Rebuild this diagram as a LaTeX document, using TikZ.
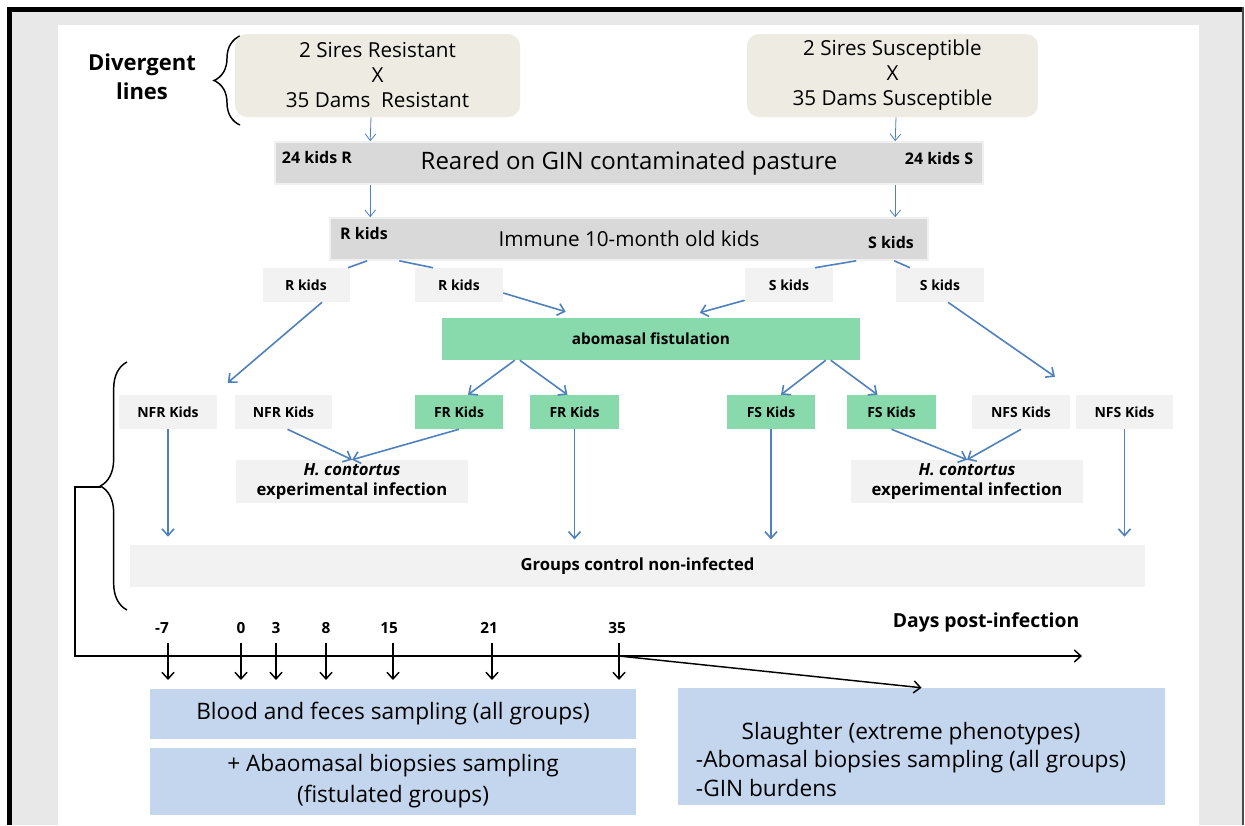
\documentclass[tikz,border=0pt]{standalone}
\usepackage{fontspec}
\setmainfont{Open Sans}
\usetikzlibrary{arrows.meta,calc,decorations.pathreplacing}

\definecolor{framegray}{RGB}{232,232,232}
\definecolor{linebeige}{RGB}{238,236,226}
\definecolor{bargray}{RGB}{217,217,217}
\definecolor{boxgray}{RGB}{242,242,242}
\definecolor{fistgreen}{RGB}{136,218,172}
\definecolor{sampleblue}{RGB}{195,214,238}
\definecolor{flowblue}{RGB}{79,129,189}

\begin{document}
\begin{tikzpicture}[x=0.75pt,y=-0.75pt,
  box/.style 2 args={minimum width=#1*0.75pt,minimum height=#2*0.75pt,inner sep=0pt,align=center},
  linebox/.style={fill=linebeige,rounded corners=9pt,font=\fontsize{15.5}{18.75}\selectfont},
  barbox/.style={fill=bargray,draw=bargray!40!white,line width=1.2pt},
  kidbox/.style={fill=boxgray,font=\bfseries\fontsize{10.5}{12}\selectfont},
  fistbox/.style={fill=fistgreen,font=\bfseries\fontsize{10.5}{12}\selectfont},
  infbox/.style={fill=boxgray,font=\bfseries\fontsize{12.5}{15}\selectfont},
  samplebox/.style={fill=sampleblue,font=\fontsize{17}{23}\selectfont},
  barlabel/.style={font=\bfseries\fontsize{12}{14}\selectfont},
  daylabel/.style={font=\bfseries\fontsize{11.5}{13}\selectfont},
  flow/.style={draw=flowblue,line width=1.2pt,-{Straight Barb[length=5pt,width=9pt]}},
  thinflow/.style={draw=flowblue,line width=0.6pt,-{Straight Barb[length=5pt,width=8pt]}},
  feed/.style={draw=flowblue,line width=1.2pt},
  tick/.style={draw=black,line width=1.1pt,-{Straight Barb[length=5pt,width=9pt]}},
  curly/.style={draw=black,line width=1.1pt,decorate,decoration={brace,amplitude=#1}},
]

  % Bingkai
  \useasboundingbox (0,0) rectangle (1245,825);
  \fill[framegray] (12,12) rectangle (1243,825);
  \fill[white] (58,25) rectangle (1199,825);
  \fill[black] (7,7) rectangle (1243,12);
  \fill[black] (7,7) rectangle (12,825);
  \draw[black!70,line width=1pt] (1243,7) -- (1243,825);

  % Garis divergen
  \node[font=\bfseries\fontsize{16.5}{22}\selectfont,align=center] (divlbl) at (142,77) {Divergent\\lines};
  \draw[curly=19.5pt] (240,125) -- (240,36);
  \node[linebox,box={285}{83}] (rtop) at (377.5,75.5) {2 Sires Resistant\\X\\35 Dams\ \ Resistant};
  \node[linebox,box={291}{83}] (stop) at (892.5,75.5) {2 Sires Susceptible\\X\\35 Dams Susceptible};

  % Padang rumput
  \node[barbox,box={708}{42},font=\fontsize{18}{20}\selectfont] (reared) at (629,163) {Reared on GIN contaminated pasture};
  \node[barlabel] (rearR) at (317,157) {24 kids R};
  \node[barlabel] (rearS) at (939,158) {24 kids S};
  \node[barbox,box={598}{42},font=\fontsize{15.5}{18}\selectfont] (immune) at (629,239) {Immune 10-month old kids};
  \node[barlabel] (immR) at (364,233) {R kids};
  \node[barlabel] (immS) at (891,242) {S kids};

  \draw[thinflow] ($(rtop.south)+(-6.5,0)$) -- ($(reared.north west)+(96,0)$);
  \draw[thinflow] ($(stop.south)+(3.5,0)$) -- ($(reared.north west)+(621,0)$);
  \draw[thinflow] ($(reared.south west)+(96,0)$) -- ($(immune.north west)+(41,0)$);
  \draw[thinflow] ($(reared.south west)+(621,0)$) -- ($(immune.north west)+(566,0)$);

  % Kelompok anak
  \node[kidbox,box={87}{34}] (rk1) at (306,285) {R kids};
  \node[kidbox,box={88}{34}] (rk2) at (459,285) {R kids};
  \node[kidbox,box={88}{34}] (sk1) at (789,285) {S kids};
  \node[kidbox,box={88}{34}] (sk2) at (940,285) {S kids};
  \node[fistbox,box={418}{42},font=\bfseries\fontsize{11.5}{13}\selectfont] (fist) at (651,339) {abomasal fistulation};

  \draw[feed] ($(immune.south west)+(38,0)$) -- ($(rk1.north)+(42,0)$);
  \draw[feed] ($(immune.south west)+(70,0)$) -- ($(rk2.north)+(-26,0)$);
  \draw[feed] ($(immune.south west)+(527,0)$) -- ($(sk1.north)+(26,0)$);
  \draw[feed] ($(immune.south west)+(565,0)$) -- ($(sk2.north)+(-30,0)$);

  \node[kidbox,box={98}{34}] (nfr1) at (168,412) {NFR Kids};
  \node[kidbox,box={97}{34}] (nfr2) at (283.5,412) {NFR Kids};
  \node[fistbox,box={88}{34}] (fr1) at (459,412) {FR Kids};
  \node[fistbox,box={89}{34}] (fr2) at (574.5,412) {FR Kids};
  \node[fistbox,box={88}{34}] (fs1) at (771,412) {FS Kids};
  \node[fistbox,box={89}{34}] (fs2) at (891.5,412) {FS Kids};
  \node[kidbox,box={98}{34}] (nfs1) at (1021,412) {NFS Kids};
  \node[kidbox,box={97}{34}] (nfs2) at (1124.5,412) {NFS Kids};

  \draw[flow] ($(rk1.south)+(16,0)$) -- ($(nfr2.north west)+(-7,-12)$);
  \draw[flow] ($(rk2.east)+(0,8)$) -- ($(fist.north west)+(124,-6)$);
  \draw[flow] ($(sk1.south west)+(0,-2)$) -- ($(fist.north west)+(258,-5)$);
  \draw[flow] ($(sk2.south)+(8,0)$) -- ($(nfs1.north)+(34,-18)$);
  \draw[flow] ($(fist.south west)+(73,0)$) -- ($(fr1.north)+(9,0)$);
  \draw[flow] ($(fist.south west)+(78,0)$) -- ($(fr2.north)+(-7,0)$);
  \draw[flow] ($(fist.south west)+(384,0)$) -- ($(fs1.north)+(10,0)$);
  \draw[flow] ($(fist.south west)+(389,0)$) -- ($(fs2.north)+(-14,0)$);

  % Infeksi H. contortus
  \node[infbox,box={232}{43}] (hcl) at (352,481.5) {\textit{H. contortus}\\experimental infection};
  \node[infbox,box={232}{43}] (hcr) at (967,481.5) {\textit{H. contortus}\\experimental infection};
  \node[infbox,box={1015}{42}] (groups) at (637.5,566) {Groups control non-infected};

  \draw[flow] ($(nfr2.south)+(4,0)$) -- (hcl.north);
  \draw[flow] (fr1.south) -- (hcl.north);
  \draw[flow] (fs2.south) -- (hcr.north);
  \draw[flow] (nfs1.south) -- (hcr.north);
  \draw[flow,shorten >=6pt] (nfr1.south) -- (nfr1.south |- groups.north);
  \draw[flow,shorten >=4pt] (fr2.south) -- (fr2.south |- groups.north);
  \draw[flow,shorten >=4pt] (fs1.south) -- (fs1.south |- groups.north);
  \draw[flow,shorten >=6pt] (nfs2.south) -- (nfs2.south |- groups.north);

  % Garis waktu
  \draw[curly=20pt] (127,610) -- (127,362);
  \coordinate (btip) at (101,487);
  \coordinate (axisL) at (75,656);
  \coordinate (axisR) at (1082,656);
  \draw[tick] (btip) -- (75,487) -- (axisL) -- (axisR);
  \node[font=\bfseries\fontsize{14.5}{17}\selectfont] (dpi) at (986,622) {Days post-infection};
  \foreach \d/\x/\lx in {-7/168/162,0/241/241,3/276/276,8/326/326,15/393/389,21/492/489,35/619/617} {
    \node[daylabel] (d\x) at (\lx,628) {\d};
    \coordinate (t\x) at (\x,643);
    \draw[tick] (t\x) -- ++(0,37);
  }

  % Pengambilan sampel
  \node[samplebox,box={486}{50}] (blood) at (393,714) {Blood and feces sampling (all groups)};
  \node[samplebox,box={486}{67}] (biops) at (393,781) {+ Abaomasal biopsies sampling\\(fistulated groups)};
  \node[samplebox,box={487}{117}] (slaughter) at (921.5,746.5) {};
  \node[font=\fontsize{17}{21.5}\selectfont,inner sep=0pt] (slaughtertxt) at (911,762) {\begin{tabular}{@{}l@{}}\multicolumn{1}{@{}c@{}}{Slaughter (extreme phenotypes)}\\-Abomasal biopsies sampling (all groups)\\-GIN burdens\end{tabular}};
  \draw[tick] (619,656) -- (slaughter.north);

\end{tikzpicture}
\end{document}
